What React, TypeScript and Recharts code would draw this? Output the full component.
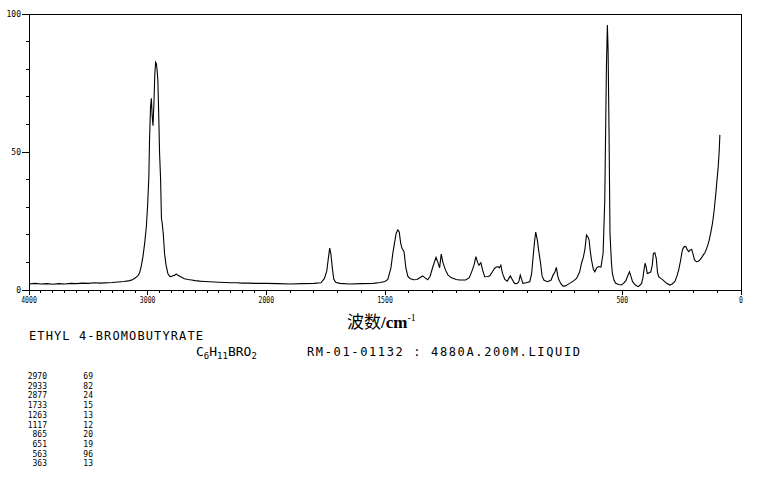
import React from 'react';
import { LineChart, Line, XAxis, YAxis, ReferenceLine } from 'recharts';

// Raman spectrum, ethyl 4-bromobutyrate. Wavenumbers in cm-1, high to low.
const chWavenumbers = [
  4000, 3950, 3900, 3850, 3800, 3750, 3700, 3650, 3600, 3550,
  3500, 3450, 3400, 3300, 3250, 3200, 3150, 3124, 3100, 3080,
  3068, 3055, 3040, 3025, 3011, 3000, 2990, 2984, 2976, 2969,
  2962, 2955, 2947, 2940, 2933, 2927, 2921, 2914, 2905, 2900,
  2891, 2884, 2877, 2868, 2858, 2845, 2830, 2815, 2800, 2790,
  2775, 2760, 2745, 2730, 2710, 2690, 2660, 2630, 2600, 2560,
  2520, 2480, 2440, 2400, 2350, 2300, 2250, 2200, 2150, 2100,
  2050,
];
const chIntensity = [
  2.2, 2.4, 2.2, 2.3, 2.1, 2.3, 2.2, 2.4, 2.3, 2.5,
  2.4, 2.6, 2.5, 2.7, 2.9, 3.1, 3.4, 3.8, 4.5, 5.3,
  6.2, 8.5, 12, 17, 23, 31, 41, 55, 66, 69.5,
  63, 59.5, 68, 78, 82.5, 82, 80, 76, 60, 50,
  40, 26, 24, 20, 13.3, 9, 6, 5, 4.8, 5.2,
  5.3, 5.8, 5.3, 5.0, 4.5, 4.1, 3.8, 3.6, 3.4, 3.2,
  3.1, 3.0, 2.9, 2.8, 2.7, 2.6, 2.6, 2.5, 2.5, 2.4,
  2.4,
];

const fpWavenumbers = [
  2000, 1950, 1900, 1850, 1800, 1770, 1755, 1745, 1738, 1733,
  1728, 1722, 1716, 1708, 1690, 1650, 1600, 1550, 1520, 1500,
  1488, 1475, 1467, 1458, 1453, 1446, 1440, 1434, 1428, 1420,
  1412, 1404, 1395, 1380, 1365, 1350, 1341, 1330, 1320, 1310,
  1298, 1285, 1277, 1270, 1263, 1256, 1245, 1235, 1222, 1200,
  1186, 1160, 1145, 1136, 1125, 1117, 1110, 1104, 1096, 1088,
  1080, 1068, 1059, 1048, 1038, 1030, 1024, 1018, 1012, 1005,
  995, 985, 978, 972, 965, 954, 945, 937, 930, 925,
  919, 905, 890, 882, 876, 870, 865, 858, 852, 845,
  838, 830, 815, 800, 792, 784, 778, 772, 767, 758,
  750, 740, 722, 705, 693, 680, 672, 664, 658, 651,
  645, 640, 635, 630, 622, 616, 608, 600, 590, 581,
  574, 567, 563, 560, 556, 552, 546, 542, 535, 528,
  515, 504, 495, 485, 478, 470, 464, 457, 445, 433,
  425, 419, 413, 409, 404, 400, 395, 388, 380, 374,
  369, 363, 357, 352, 347, 338, 328, 315, 300, 290,
  279, 270, 262, 255, 248, 244, 238, 232, 226, 220,
  214, 208, 202, 196, 188, 180, 173, 165, 158, 152,
  145, 139, 134, 127, 120, 113, 106, 101, 96, 92,
  89,
];
const fpIntensity = [
  2.4, 2.3, 2.2, 2.3, 2.4, 2.6, 4.2, 7, 12, 15.2,
  13, 8, 4, 2.8, 2.4, 2.2, 2.3, 2.4, 2.7, 3.1,
  3.8, 8, 13.3, 18, 20.5, 21.8, 21, 17, 15, 14,
  8, 5, 4.2, 3.7, 3.8, 4.6, 5.1, 4.3, 3.7, 5,
  8.5, 11.8, 10, 8, 13, 10, 7.2, 5.5, 4.5, 3.8,
  3.6, 3.6, 4.5, 6.3, 9, 12.1, 10, 9, 9.9, 7,
  4.8, 4.9, 5.1, 6.5, 7.9, 8.3, 8.5, 8, 9, 6,
  3.8, 3.2, 4.2, 5.1, 4, 2.4, 2.3, 2.8, 5.4, 4,
  2.4, 2.6, 3.0, 6, 12, 17.5, 21, 18, 14, 10,
  5, 3.5, 3.0, 3.6, 5.4, 6.5, 8.2, 5, 3.6, 2.2,
  1.4, 1.5, 2.4, 3.3, 4.2, 6.5, 9.7, 12, 14.5, 19.9,
  19.2, 18.1, 14, 10.9, 7.5, 6.6, 8, 8.5, 8.3, 13.3,
  32.6, 81, 96, 87, 57, 20.6, 10, 6, 3.5, 2.4,
  2.0, 1.8, 2.4, 3.4, 5, 6.6, 5, 3, 1.8, 1.2,
  1.8, 2.4, 4.5, 7.2, 9.7, 8.5, 6, 6.2, 6.6, 9,
  13.3, 13.5, 11.5, 6.5, 4.8, 4.2, 3.6, 2.5, 1.8, 2.2,
  3, 5, 7.5, 10.5, 14, 15.1, 15.8, 15.7, 14.5, 13.9,
  14.5, 14.7, 13, 10.9, 10.3, 10.4, 10.9, 11.8, 12.8, 13.5,
  15, 16.5, 18.1, 21, 24.2, 29, 35, 40, 44.7, 50,
  56.2,
];

// peak table printed under the chart
const peakWavenumbers = [2970, 2933, 2877, 1733, 1263, 1117, 865, 651, 563, 363];
const peakIntensities = [69, 82, 24, 15, 13, 12, 20, 19, 96, 13];

const xLabelTicks = [4000, 3000, 2000, 1500, 500, 0];
const yLabelTicks = [0, 50, 100];
const yTicks = [0, 10, 20, 30, 40, 50, 60, 70, 80, 90, 100];

// the chart's x scale is compressed by half above 2000 cm-1
const toAxis = (w: number) => (w <= 2000 ? w : 2000 + (w - 2000) / 2);
const fromAxis = (t: number) => (t <= 2000 ? t : 2000 + (t - 2000) * 2);

const allW = [...chWavenumbers, ...fpWavenumbers];
const allI = [...chIntensity, ...fpIntensity];
const data = allW.map((w, i) => ({ t: toAxis(w), y: allI[i] }));

const xTicks: number[] = [];
for (let w = 0; w <= 4000; w += 100) xTicks.push(toAxis(w));

const MONO = '"DejaVu Sans Mono", "Liberation Mono", monospace';

const XTick = (props: any) => {
  const { x, y, payload } = props;
  const w = Math.round(fromAxis(payload.value));
  const major = xLabelTicks.includes(w);
  const label = String(w);
  return (
    <g>
      <line x1={x} x2={x} y1={y} y2={y + (major ? 5 : 3)} stroke="#000" shapeRendering="crispEdges" />
      {major && (
        <text
          x={x}
          y={y + 13}
          textAnchor="middle"
          fontSize={9}
          fontFamily={MONO}
          fill="#000"
          textLength={label.length * 3.9}
          lengthAdjust="spacingAndGlyphs"
        >
          {label}
        </text>
      )}
    </g>
  );
};

const YTick = (props: any) => {
  const { x, y, payload } = props;
  const major = yLabelTicks.includes(payload.value);
  return (
    <g>
      <line x1={x - (major ? 7 : 3)} x2={x} y1={y} y2={y} stroke="#000" shapeRendering="crispEdges" />
      {major && (
        <text x={x - 8} y={y + 3} textAnchor="end" fontSize={8} fontFamily={MONO} fill="#000">
          {payload.value}
        </text>
      )}
    </g>
  );
};

export default function App() {
  return (
    <div style={{ position: 'absolute', left: 0, top: 0, width: 765, height: 478, background: '#fff' }}>
      <LineChart width={765} height={478} data={data} margin={{ top: 14, right: 24, bottom: 168, left: 0 }}>
        <XAxis
          dataKey="t"
          type="number"
          domain={[0, 3000]}
          reversed
          ticks={xTicks}
          interval={0}
          tickSize={0}
          tickMargin={0}
          tick={XTick}
          height={20}
          axisLine={{ stroke: '#000', shapeRendering: 'crispEdges' }}
          allowDataOverflow
        />
        <YAxis
          type="number"
          domain={[0, 100]}
          ticks={yTicks}
          interval={0}
          tickSize={0}
          tickMargin={0}
          tick={YTick}
          width={29}
          axisLine={{ stroke: '#000', shapeRendering: 'crispEdges' }}
          allowDataOverflow
        />
        <ReferenceLine y={100} stroke="#000" shapeRendering="crispEdges" />
        <ReferenceLine x={0} stroke="#000" shapeRendering="crispEdges" />
        <Line type="linear" dataKey="y" stroke="#000" strokeWidth={1.1} dot={false} isAnimationActive={false} />
      </LineChart>
      <svg width={765} height={478} style={{ position: 'absolute', left: 0, top: 0, pointerEvents: 'none' }}>
        <text x={347} y={328} fontSize={17} fill="#000">
          <tspan fontFamily='"Noto Sans CJK SC", sans-serif'>波数</tspan>
          <tspan fontFamily='"Liberation Serif", serif' fontWeight="bold">/cm</tspan>
          <tspan fontFamily='"Liberation Serif", serif' fontSize={10} dy={-7}>-1</tspan>
        </text>
        <text x={29} y={340} fontSize={12} fontFamily={MONO} fill="#000" textLength={174} lengthAdjust="spacing">
          ETHYL 4-BROMOBUTYRATE
        </text>
        <text x={196} y={356} fontSize={13} fontFamily={MONO} fill="#000">
          <tspan>C</tspan>
          <tspan fontSize={9} dy={3}>6</tspan>
          <tspan dy={-3}>H</tspan>
          <tspan fontSize={9} dy={3}>11</tspan>
          <tspan dy={-3}>BRO</tspan>
          <tspan fontSize={9} dy={3}>2</tspan>
        </text>
        <text x={307} y={356} fontSize={12} fontFamily={MONO} fill="#000" textLength={273} lengthAdjust="spacing">
          RM-01-01132 : 4880A.200M.LIQUID
        </text>
        {peakWavenumbers.map((w, i) => (
          <g key={w}>
            <text x={47} y={379 + i * 9.7} textAnchor="end" fontSize={8} fontFamily={MONO} fill="#000">
              {w}
            </text>
            <text x={93} y={379 + i * 9.7} textAnchor="end" fontSize={8} fontFamily={MONO} fill="#000">
              {peakIntensities[i]}
            </text>
          </g>
        ))}
      </svg>
    </div>
  );
}
